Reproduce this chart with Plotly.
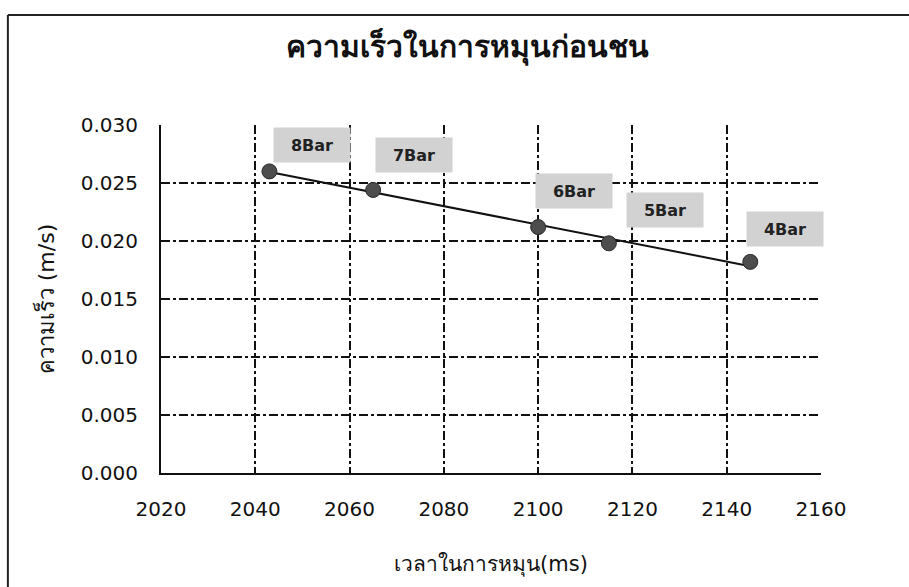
import numpy as np
import plotly.graph_objects as go

# Spin-up time before impact vs. rotational speed, per supply pressure
pressure_labels = ["8Bar", "7Bar", "6Bar", "5Bar", "4Bar"]
time_ms = [2043, 2065, 2100, 2115, 2145]
speed_ms = [0.0260, 0.0244, 0.0212, 0.0198, 0.0182]

x_ticks = [2020, 2040, 2060, 2080, 2100, 2120, 2140, 2160]
y_ticks = [0.000, 0.005, 0.010, 0.015, 0.020, 0.025, 0.030]

# pixel offsets of each data label box from its point
label_dx = [43, 41, 36, 56, 35]
label_dy = [-26, -35, -36, -33, -33]

FONT = "Tahoma, 'DejaVu Sans', sans-serif"

# linear trendline through the measured points
coef = np.polyfit(time_ms, speed_ms, 1)
trend_x = np.array([min(time_ms), max(time_ms)])
trend_y = np.polyval(coef, trend_x)

fig = go.Figure()
fig.add_trace(go.Scatter(
    x=trend_x, y=trend_y, mode="lines",
    line=dict(color="#111111", width=2), hoverinfo="skip", showlegend=False,
))
fig.add_trace(go.Scatter(
    x=time_ms, y=speed_ms, mode="markers",
    marker=dict(size=15, color="#4d4d4d", line=dict(color="#2a2a2a", width=1)),
    showlegend=False,
))

for lab, xv, yv, dx, dy in zip(pressure_labels, time_ms, speed_ms, label_dx, label_dy):
    fig.add_annotation(
        x=xv, y=yv, xref="x", yref="y", text=f"<b>{lab}</b>",
        showarrow=False, xshift=dx, yshift=-dy,
        bgcolor="#d2d2d2", width=74, height=32,
        font=dict(family=FONT, size=16, color="#222222"),
    )

# chart frame (left and top edges)
fig.add_shape(type="line", xref="paper", yref="paper",
              x0=-0.232, x1=-0.232, y0=-0.33, y1=1.316,
              line=dict(color="#222222", width=2))
fig.add_shape(type="line", xref="paper", yref="paper",
              x0=-0.232, x1=1.14, y0=1.316, y1=1.316,
              line=dict(color="#222222", width=2))

fig.update_layout(
    width=909, height=587,
    margin=dict(l=161, r=88, t=125, b=114),
    paper_bgcolor="white", plot_bgcolor="white",
    title=dict(text="<b>ความเร็วในการหมุนก่อนชน</b>", x=0.465, xref="paper",
               xanchor="center", y=0.92, yanchor="middle",
               font=dict(family=FONT, size=30, color="#111111")),
    font=dict(family=FONT, color="#111111"),
)
fig.update_xaxes(
    range=[2020, 2160], tickvals=x_ticks, ticktext=[str(v) for v in x_ticks],
    showgrid=True, gridcolor="#111111", griddash="dashdot", gridwidth=1.5,
    showline=True, linecolor="#111111", linewidth=2, zeroline=False,
    ticks="", tickfont=dict(size=20), ticklabelstandoff=17,
    title=dict(text="เวลาในการหมุน(ms)", font=dict(size=21), standoff=36),
)
fig.update_yaxes(
    range=[0, 0.030], tickvals=y_ticks, ticktext=[f"{v:.3f}" for v in y_ticks],
    showgrid=True, gridcolor="#111111", griddash="dashdot", gridwidth=1.5,
    showline=True, linecolor="#111111", linewidth=2, zeroline=False,
    ticks="", tickfont=dict(size=20), ticklabelstandoff=17,
    title=dict(text="ความเร็ว (m/s)", font=dict(size=22), standoff=20),
)

fig.write_html("out.html")
